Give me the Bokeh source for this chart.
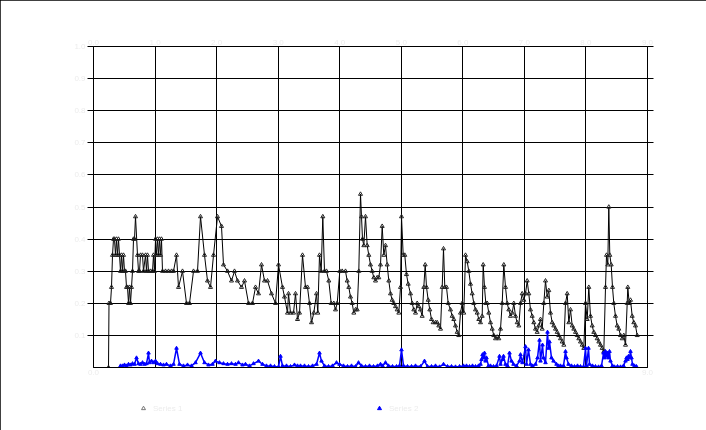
from bokeh.plotting import figure
from bokeh.models import Range1d, LinearAxis, FixedTicker, Legend, LegendItem
from bokeh.embed import file_html
from bokeh.resources import INLINE

# ---- data (x in chart units, y values) ----
black_x = [108, 108.5, 110, 111, 112, 113, 114, 115, 116, 117, 118, 119, 120, 121, 122, 123, 124, 125, 126, 127,
           128, 129, 130, 131, 132, 133, 134, 135, 137, 138, 139, 140, 142, 143, 145, 146, 147, 148, 150, 152,
           153, 154, 155, 156, 157, 158, 159, 160, 161, 162, 165, 168, 171, 173, 176, 178, 182, 186, 189, 193,
           197, 200, 204, 207, 210, 213, 217, 221, 223, 227, 231, 234, 237, 241, 244, 248, 252, 255, 258, 261,
           264, 267, 271, 275, 278, 282, 284, 287, 288, 290, 293, 295, 297, 299, 302, 305, 307, 309,
           311, 313.3, 316, 317.3, 319, 320.7, 322.3, 324, 326, 328.3, 330.7, 333.3, 335, 336.7, 339.3, 341.7,
           345, 346.7, 348.3, 350, 351.7, 353.3, 355, 356.7, 358.3, 360, 361, 362, 363.3, 365, 366.7, 368.3,
           370, 371.7, 373.3, 375, 376.7, 378.3, 380, 381.7, 383.3, 385, 386.7, 388.3, 390, 391.7, 393.3, 395,
           396.7, 398.3, 400, 401, 402.7, 404.3, 406, 407.7, 410, 411.7, 413.3, 415, 416.7, 418.3, 420, 421.7,
           423.3, 424.7, 426, 427.7, 429.3, 431, 432.7, 435, 436.7, 438.3, 440, 441.7, 443, 444.3, 446, 447.7,
           450, 451.7, 453.3, 455, 456.7, 458.3, 460, 461.7, 463.3, 465, 466.7, 468.3, 470, 471.7, 473.3, 475,
           476.7, 478.3, 480, 481.7, 482.7, 484, 485.3, 486.7, 488.3, 490, 491.7, 493.3, 495, 496.7, 498.3, 500,
           501.7, 503.3, 505, 506.7, 508.3, 510, 511.7, 513.3, 515, 516.7, 518.3,
           520, 521.7, 523.3, 525, 526.7, 528.3, 530, 531.7, 533.3, 535, 536.7, 538.3, 540, 541.7, 543.3, 545,
           546.7, 548.3, 550, 551.7, 553.3, 555, 556.7, 558.3, 560, 561.7, 563.3, 565, 566.7, 568.3, 570, 571.7,
           573.3, 575, 576.7, 578.3, 580, 581.7, 583.3, 585, 586.7, 588.3, 590, 591.7, 593.3, 595, 596.7, 598.3,
           600, 601.7, 603.3, 605, 606, 607.3, 608.3, 609.3, 610.7, 612, 613.3, 615, 616.7, 618.3, 620, 621.7,
           623.3, 625, 626.7, 627.3, 628.7, 630, 631.7, 633.3, 635, 636.7]
black_y = [0, 2, 2, 2.5, 3.5, 4, 4, 3.5, 4, 3.5, 4, 3.5, 3, 3.5, 3, 3.5, 3, 3, 2.5, 2.5,
           2, 2.5, 2, 2.5, 3, 4, 4, 4.7, 3.5, 3, 3, 3.5, 3.5, 3, 3.5, 3, 3.5, 3, 3, 3,
           3.5, 3, 4, 3.5, 4, 3.5, 4, 3.5, 4, 3, 3, 3, 3, 3, 3.5, 2.5, 3, 2, 2, 3,
           3, 4.7, 3.5, 2.7, 2.5, 3.5, 4.7, 4.4, 3.2, 3, 2.7, 3, 2.7, 2.5, 2.7, 2, 2, 2.5, 2.3, 3.2,
           2.7, 2.7, 2.3, 2, 3.2, 2.5, 2.2, 1.7, 2.3, 1.7, 1.7, 2.3, 1.5, 1.7, 3.5, 2.5, 2.5, 2.0,
           1.4, 1.7, 2.3, 1.7, 3.5, 3.0, 4.7, 3.0, 3.0, 2.7, 2.0, 2.0, 1.8, 2.0, 3.0, 3.0,
           3.0, 2.7, 2.5, 2.2, 2.0, 1.7, 1.8, 1.8, 3.0, 5.4, 4.7, 4.0, 3.8, 4.7, 3.8, 3.5,
           3.2, 3.0, 2.8, 2.7, 2.8, 2.8, 3.2, 4.4, 3.5, 3.8, 3.2, 2.7, 2.3, 2.1, 2.0, 1.9,
           1.8, 1.7, 2.5, 4.7, 3.5, 3.5, 2.9, 2.6, 2.3, 2.0, 1.8, 1.7, 2.0, 1.9, 1.8, 1.6,
           2.5, 3.2, 2.5, 2.1, 1.8, 1.5, 1.4, 1.4, 1.4, 1.3, 1.2, 2.5, 3.7, 2.5, 2.5, 2.0,
           1.8, 1.6, 1.5, 1.3, 1.1, 1.0, 1.7, 2.0, 1.7, 3.5, 3.3, 3.0, 2.6, 2.3, 2.0, 1.8,
           1.7, 1.5, 1.4, 1.6, 3.2, 2.5, 2.0, 2.0, 1.7, 1.4, 1.2, 1.0, 0.9, 0.95, 0.9, 1.2,
           2.0, 3.2, 2.5, 2.0, 1.8, 1.6, 1.7, 2.0, 1.6, 1.4, 1.3,
           2.0, 2.3, 2.1, 2.3, 2.7, 2.3, 1.8, 1.6, 1.4, 1.2, 1.1, 1.3, 1.5, 1.2, 2.0, 2.7,
           2.2, 2.4, 1.7, 1.4, 1.3, 1.2, 1.1, 1.0, 0.9, 0.8, 0.7, 2.0, 2.3, 1.4, 1.8, 1.3,
           1.2, 1.1, 1.0, 0.9, 0.8, 0.7, 0.6, 2.0, 1.5, 2.5, 1.6, 1.3, 1.1, 1.0, 0.9, 0.8,
           0.7, 0.6, 0.5, 2.5, 3.5, 3.2, 5.0, 3.5, 3.2, 2.5, 2.0, 1.6, 1.3, 1.2, 1.0, 0.9,
           1.0, 0.7, 2.0, 2.5, 2.0, 2.1, 1.6, 1.4, 1.3, 1.0]

blue_x = [120, 122, 124, 126, 128, 130, 132, 134, 136, 138, 140, 142, 144, 146, 148, 149, 151, 153, 155, 157,
          160, 163, 166, 170, 173, 176, 179, 183, 187, 191, 195, 200, 204, 208, 212, 215, 219, 223, 227, 231,
          235, 238, 242, 245, 249, 253, 258, 262, 266, 270, 274, 278, 280, 282, 286, 290, 294, 297, 300, 304,
          308, 312, 316, 319, 321, 324, 328, 332, 336, 339, 343, 347, 351, 355, 358, 361, 365, 369, 373, 377,
          380, 382, 385, 388, 392, 396, 399, 401, 403, 407, 411, 415, 420, 424, 427, 431, 435, 439, 443, 447,
          451, 455, 459, 463, 466, 469, 472, 475, 478, 480, 481, 482, 483, 484, 485, 486, 488, 490, 493, 496,
          499, 500, 502, 503, 505, 507, 509, 511, 513, 516, 519, 520, 522, 525, 526, 528, 530, 532, 535, 537,
          539, 540, 542, 543, 545, 547, 548, 549, 551, 553, 556, 558, 560, 563, 565, 566, 568, 571, 574, 577,
          580, 583, 585, 586, 588, 589, 592, 595, 598, 601, 603, 604, 605, 606, 607, 608, 609, 610, 612, 614,
          617, 620, 623, 625, 626, 627, 628, 629, 630, 631, 632, 634, 636]
blue_y = [0.05, 0.05, 0.08, 0.05, 0.1, 0.08, 0.12, 0.1, 0.3, 0.12, 0.1, 0.15, 0.1, 0.12, 0.45, 0.15, 0.2, 0.15, 0.2, 0.12,
          0.1, 0.08, 0.1, 0.05, 0.1, 0.6, 0.1, 0.05, 0.08, 0.05, 0.15, 0.45, 0.15, 0.08, 0.1, 0.2, 0.15, 0.12, 0.1, 0.12,
          0.1, 0.15, 0.08, 0.1, 0.05, 0.12, 0.2, 0.1, 0.05, 0.05, 0.03, 0.02, 0.35, 0.05, 0.05, 0.03, 0.08, 0.05, 0.05, 0.05,
          0.03, 0.05, 0.1, 0.45, 0.2, 0.05, 0.03, 0.05, 0.15, 0.1, 0.05, 0.03, 0.05, 0.03, 0.15, 0.05, 0.03, 0.05, 0.03, 0.05,
          0.1, 0.05, 0.15, 0.05, 0.03, 0.03, 0.05, 0.55, 0.05, 0.03, 0.03, 0.05, 0.03, 0.2, 0.03, 0.03, 0.05, 0.02, 0.1, 0.03,
          0.03, 0.02, 0.03, 0.05, 0.05, 0.03, 0.05, 0.03, 0.05, 0.1, 0.25, 0.4, 0.3, 0.45, 0.2, 0.3, 0.05, 0.05, 0.03, 0.05,
          0.35, 0.1, 0.25, 0.35, 0.1, 0.05, 0.45, 0.2, 0.1, 0.05, 0.2, 0.4, 0.15, 0.65, 0.1, 0.55, 0.1, 0.05, 0.1, 0.3,
          0.85, 0.2, 0.7, 0.3, 0.15, 1.1, 0.6, 0.8, 0.3, 0.2, 0.1, 0.05, 0.05, 0.05, 0.5, 0.3, 0.1, 0.05, 0.03, 0.05,
          0.03, 0.02, 0.6, 0.05, 0.6, 0.1, 0.05, 0.03, 0.02, 0.05, 0.45, 0.3, 0.5, 0.35, 0.45, 0.3, 0.5, 0.2, 0.05, 0.02,
          0.03, 0.02, 0.05, 0.2, 0.3, 0.25, 0.35, 0.3, 0.5, 0.3, 0.1, 0.05, 0.03]

x_ticks = [93, 154.6, 216.1, 277.7, 339.2, 400.8, 462.3, 523.9, 585.4, 647]
x_top_labels = ["0.0", "1.0", "2.0", "3.0", "4.0", "5.0", "6.0", "7.0", "8.0", "9.0"]
x_bottom_ticks = [93, 647]
x_bottom_labels = ["0.0", "9.0"]
y_ticks = [1, 2, 3, 4, 5, 6, 7, 8, 9, 10]
y_labels = ["0.1", "0.2", "0.3", "0.4", "0.5", "0.6", "0.7", "0.8", "0.9", "1.0"]
series_names = ["Series 1", "Series 2"]

FAINT = "#ececec"

# ---------------- main chart ----------------
p = figure(width=706, height=430, x_range=Range1d(93, 647), y_range=Range1d(0, 10),
           output_backend="svg", toolbar_location=None,
           x_axis_location=None, y_axis_location=None,
           min_border_left=93, min_border_right=59, min_border_top=46, min_border_bottom=63)
p.styles = {"position": "fixed", "left": "0px", "top": "0px",
            "outline": "1px solid black", "outline-offset": "-1px"}
p.background_fill_color = "white"
p.border_fill_color = "white"
p.outline_line_color = "black"
p.outline_line_width = 1

p.xgrid.ticker = FixedTicker(ticks=x_ticks)
p.ygrid.ticker = FixedTicker(ticks=y_ticks)
for g in (p.xgrid[0], p.ygrid[0]):
    g.grid_line_color = "black"
    g.grid_line_width = 1
    g.grid_line_alpha = 1

left = LinearAxis(ticker=FixedTicker(ticks=y_ticks),
                  major_label_overrides={t: l for t, l in zip(y_ticks, y_labels)})
left.major_tick_out = 6
left.major_tick_in = 0
left.minor_tick_out = 0
left.major_tick_line_color = "black"
left.axis_line_color = "black"
left.major_label_text_color = FAINT
left.major_label_text_font_size = "8px"
left.major_label_standoff = 2
p.add_layout(left, "left")

right = LinearAxis(ticker=FixedTicker(ticks=y_ticks),
                   major_label_overrides={t: "" for t in y_ticks})
right.major_tick_out = 6
right.major_tick_in = 0
right.minor_tick_out = 0
right.major_tick_line_color = "black"
right.axis_line_color = "black"
right.major_label_text_font_size = "8px"
p.add_layout(right, "right")

top = LinearAxis(ticker=FixedTicker(ticks=x_ticks),
                 major_label_overrides={t: l for t, l in zip(x_ticks, x_top_labels)})
top.major_tick_out = 0
top.major_tick_in = 0
top.minor_tick_out = 0
top.axis_line_color = None
top.major_label_text_color = FAINT
top.major_label_text_font_size = "8px"
top.major_label_standoff = 2
p.add_layout(top, "above")

bottom = LinearAxis(ticker=FixedTicker(ticks=x_bottom_ticks),
                    major_label_overrides={t: l for t, l in zip(x_bottom_ticks, x_bottom_labels)})
bottom.major_tick_out = 0
bottom.major_tick_in = 0
bottom.minor_tick_out = 0
bottom.axis_line_color = "black"
bottom.major_label_text_color = FAINT
bottom.major_label_text_font_size = "8px"
bottom.major_label_standoff = 2
p.add_layout(bottom, "below")

p.line(black_x, black_y, line_color="black", line_width=1)
p.scatter(black_x, black_y, marker="triangle", size=4,
          fill_color=None, line_color="#222222", line_width=1)
p.line(blue_x, blue_y, line_color="#0000ff", line_width=1.5)
p.scatter(blue_x, blue_y, marker="triangle", size=3.5,
          fill_color="#0000ff", line_color="#0000ff")

# ---------------- legend strip (transparent overlay at the bottom) ----------------
lg = figure(width=706, height=45, x_range=Range1d(0, 1), y_range=Range1d(0, 1),
            output_backend="svg", toolbar_location=None,
            x_axis_location=None, y_axis_location=None,
            min_border_left=0, min_border_right=0, min_border_top=0, min_border_bottom=0)
lg.styles = {"position": "fixed", "left": "0px", "top": "385px"}
lg.grid.visible = False
lg.outline_line_color = None
lg.background_fill_alpha = 0
lg.border_fill_alpha = 0
# same series, but outside this strip's ranges: only their legend swatches show
k_black = lg.scatter(black_x, black_y, marker="triangle", size=5,
                     fill_color=None, line_color="#777777", line_width=1)
k_blue = lg.scatter(blue_x, blue_y, marker="triangle", size=5,
                    fill_color="#0000ff", line_color="#0000ff")
legend = Legend(items=[LegendItem(label=series_names[0], renderers=[k_black]),
                       LegendItem(label=series_names[1], renderers=[k_blue])],
                orientation="horizontal", location=(138, 17),
                glyph_width=10, glyph_height=10, label_standoff=5, spacing=0,
                label_width=221, padding=0, margin=0,
                border_line_color=None, background_fill_alpha=0,
                label_text_color=FAINT, label_text_font_size="8px")
lg.add_layout(legend, "center")

open("out.html", "w").write(file_html([p, lg], INLINE))
